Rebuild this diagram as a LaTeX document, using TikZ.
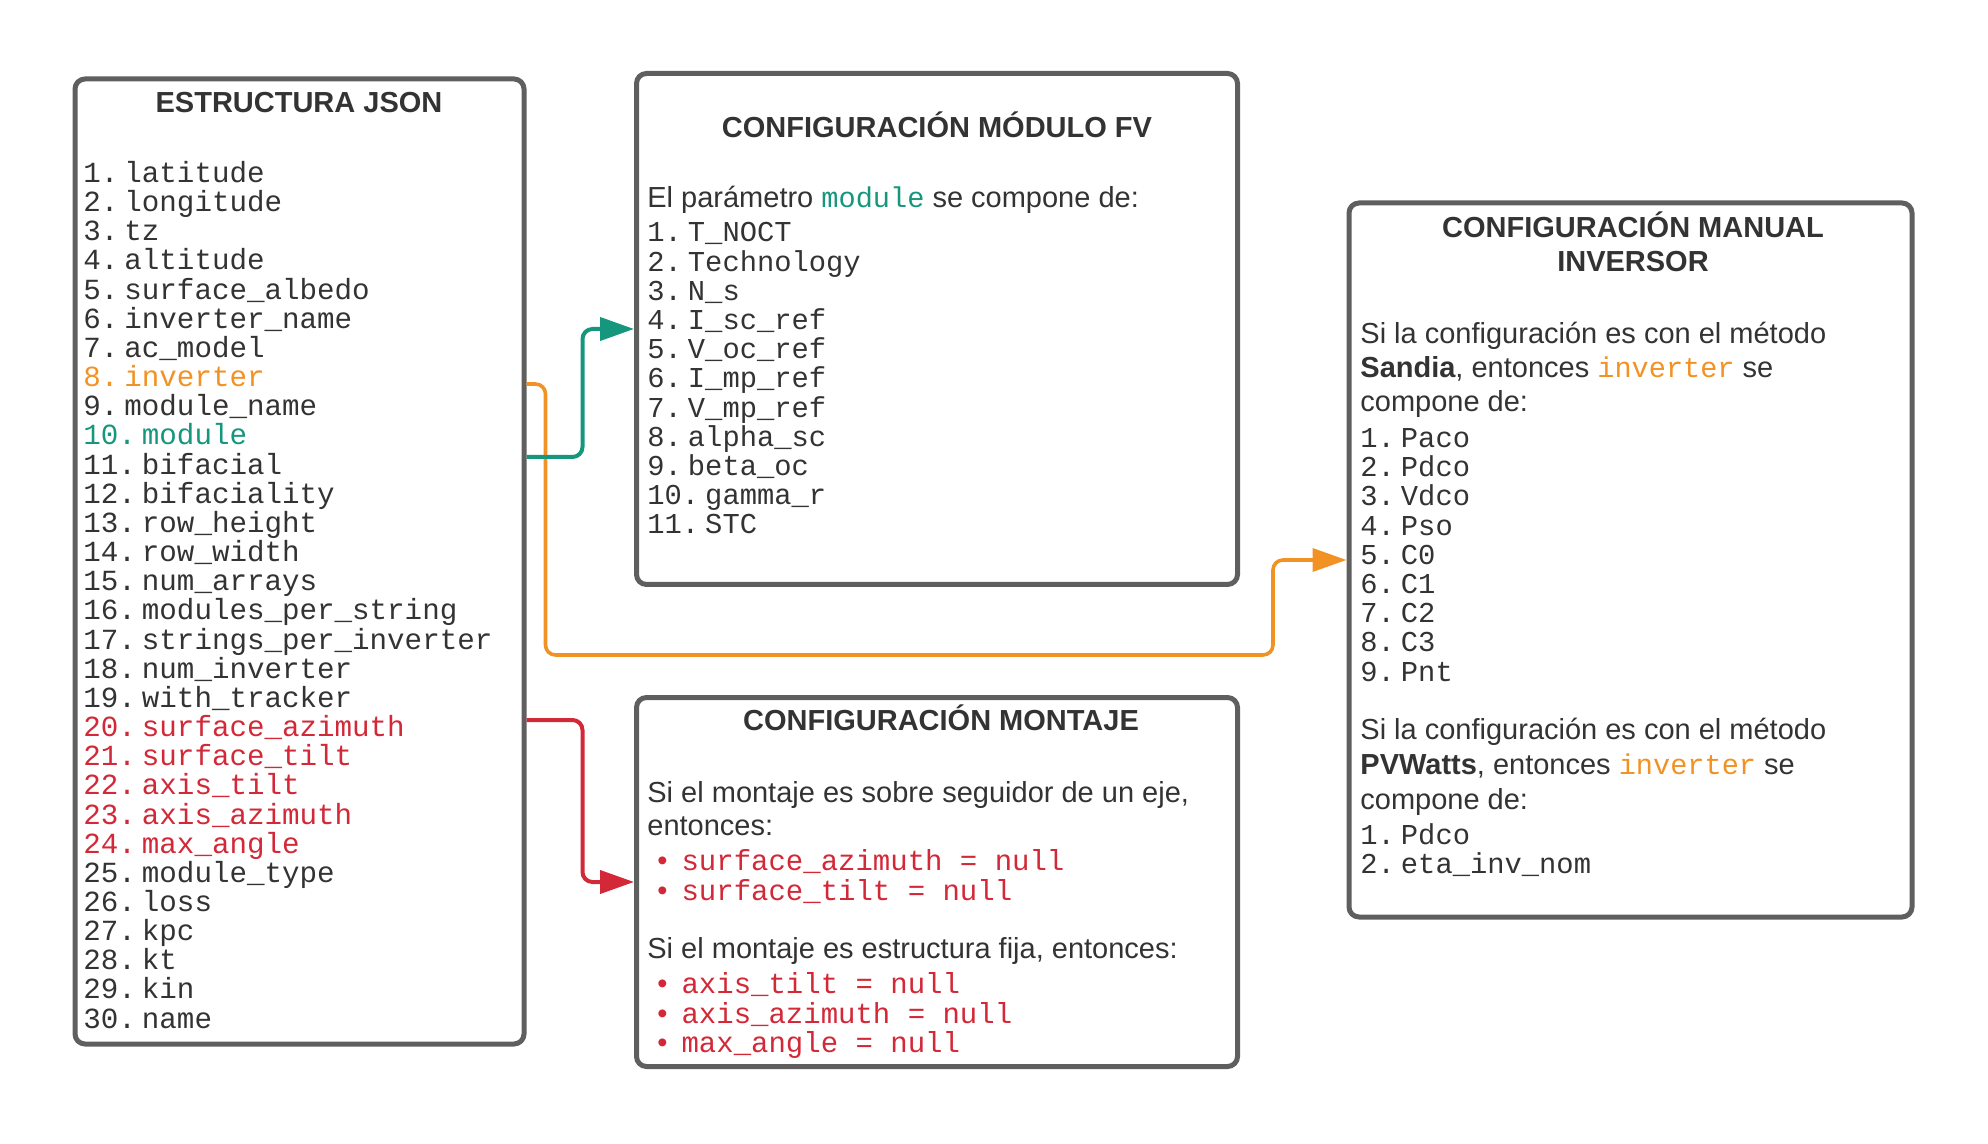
\documentclass[tikz,border=0pt]{standalone}
\usepackage{fontspec}
\setmainfont{Liberation Sans}
\setmonofont{Liberation Mono}
\usetikzlibrary{arrows.meta,positioning}

\definecolor{txtgray}{HTML}{333333}
\definecolor{boxgray}{HTML}{5F5F5F}
\definecolor{jsonorange}{HTML}{F29224}
\definecolor{jsonteal}{HTML}{16967D}
\definecolor{jsonred}{HTML}{D22837}

\tikzset{
  panel/.style={draw=boxgray, line width=2.5pt, rounded corners=5pt, inner sep=0pt},
  paneltitle/.style={anchor=base, inner sep=0pt, text=txtgray, font=\fontsize{14.5}{16}\selectfont\bfseries},
  textline/.style={anchor=base west, inner sep=0pt, text=txtgray, font=\fontsize{14.5}{16}\selectfont},
  item/.style={anchor=base west, inner sep=0pt, text=txtgray, font=\fontsize{14.4}{15}\selectfont\ttfamily},
  bulletitem/.style={anchor=base west, inner sep=0pt, text=jsonred, font=\fontsize{14.5}{16}\selectfont},
  link/.style={line width=2pt, rounded corners=5pt, -{Triangle[length=17pt,width=11.5pt]}},
}
\newcommand{\code}[2]{{\color{#1}\fontsize{14.3}{15}\selectfont\ttfamily #2}}

\begin{document}
\begin{tikzpicture}[x=0.5pt, y=-0.5pt]
  \useasboundingbox (0,0) rectangle (1988,1144);
  % the four panels
  \node[panel, minimum width=224.5pt, minimum height=482.5pt] (json) at (299.5,561.5) {};
  \node[panel, minimum width=300.5pt, minimum height=255.5pt] (fv) at (937,329) {};
  \node[panel, minimum width=300.5pt, minimum height=184.5pt] (mont) at (937,882) {};
  \node[panel, minimum width=281.5pt, minimum height=357pt] (inv) at (1630.5,560) {};

  % connectors
  \draw[link, jsonorange, line width=1.8pt] (json.east |- 0,384) -- ++(19,0) |- (1273,655) |- (inv.west);
  \draw[link, jsonteal] (json.east |- 0,457) -- ++(56,0) |- (fv.west);
  \draw[link, jsonred] (json.east |- 0,720) -- ++(56,0) |- (mont.west);

  % JSON structure
  \node[paneltitle] (jsontitle) at (299,113) {ESTRUCTURA JSON};
  \foreach \t/\c [count=\i] in {latitude/txtgray, longitude/txtgray, tz/txtgray, altitude/txtgray,
      surface\_albedo/txtgray, inverter\_name/txtgray, ac\_model/txtgray, inverter/jsonorange,
      module\_name/txtgray, module/jsonteal, bifacial/txtgray, bifaciality/txtgray,
      row\_height/txtgray, row\_width/txtgray, num\_arrays/txtgray, modules\_per\_string/txtgray,
      strings\_per\_inverter/txtgray, num\_inverter/txtgray, with\_tracker/txtgray,
      surface\_azimuth/jsonred, surface\_tilt/jsonred, axis\_tilt/jsonred, axis\_azimuth/jsonred,
      max\_angle/jsonred, module\_type/txtgray, loss/txtgray, kpc/txtgray, kt/txtgray,
      kin/txtgray, name/txtgray}
    \node[item, text=\c, font=\fontsize{14.6}{15}\selectfont\ttfamily] (j\i) at (83,{182.5+29.16*(\i-1)}) {\i.\kern3pt\t};

  % module
  \node[paneltitle] (fvtitle) at (937,138) {CONFIGURACIÓN MÓDULO FV};
  \node[textline] (fvintro) at (647,208) {El parámetro \code{jsonteal}{module} se compone de:};
  \foreach \t [count=\i] in {T\_NOCT, Technology, N\_s, I\_sc\_ref, V\_oc\_ref, I\_mp\_ref,
      V\_mp\_ref, alpha\_sc, beta\_oc, gamma\_r, STC}
    \node[item] (m\i) at (647,{242+29.18*(\i-1)}) {\i.\kern3pt\t};

  % mounting
  \node[paneltitle] (monttitle) at (941,730) {CONFIGURACIÓN MONTAJE};
  \node[textline] (tracker) at (647,802) {Si el montaje es sobre seguidor de un eje,};
  \node[textline] (trackerb) at (647,835) {entonces:};
  \foreach \t/\yy [count=\i] in {surface\_azimuth/870, surface\_tilt/900}
    \node[bulletitem] (s\i) at (657,\yy) {\textbullet\kern7pt{\fontsize{14.5}{16}\selectfont\ttfamily\t{} = null}};
  \node[textline] (fixed) at (647,958) {Si el montaje es estructura fija, entonces:};
  \foreach \t/\yy [count=\i] in {axis\_tilt/993, axis\_azimuth/1023, max\_angle/1052}
    \node[bulletitem] (f\i) at (657,\yy) {\textbullet\kern7pt{\fontsize{14.5}{16}\selectfont\ttfamily\t{} = null}};

  % inverter
  \node[paneltitle] (invtitle) at (1633,238) {CONFIGURACIÓN MANUAL};
  \node[paneltitle] (invtitleb) at (1633,272) {INVERSOR};
  \node[textline] (sandia) at (1360,344) {Si la configuración es con el método};
  \node[textline] (sandiab) at (1360,378) {\textbf{Sandia}, entonces \code{jsonorange}{inverter} se};
  \node[textline] (sandiac) at (1360,412) {compone de:};
  \foreach \t [count=\i] in {Paco, Pdco, Vdco, Pso, C0, C1, C2, C3, Pnt}
    \node[item] (p\i) at (1360,{447.5+29.2*(\i-1)}) {\i.\kern3pt\t};
  \node[textline] (pvwatts) at (1360,739) {Si la configuración es con el método};
  \node[textline] (pvwattsb) at (1360,774) {\textbf{PVWatts}, entonces \code{jsonorange}{inverter} se};
  \node[textline] (pvwattsc) at (1360,809) {compone de:};
  \foreach \t [count=\i] in {Pdco, eta\_inv\_nom}
    \node[item] (w\i) at (1360,{844+29.2*(\i-1)}) {\i.\kern3pt\t};
\end{tikzpicture}
\end{document}
